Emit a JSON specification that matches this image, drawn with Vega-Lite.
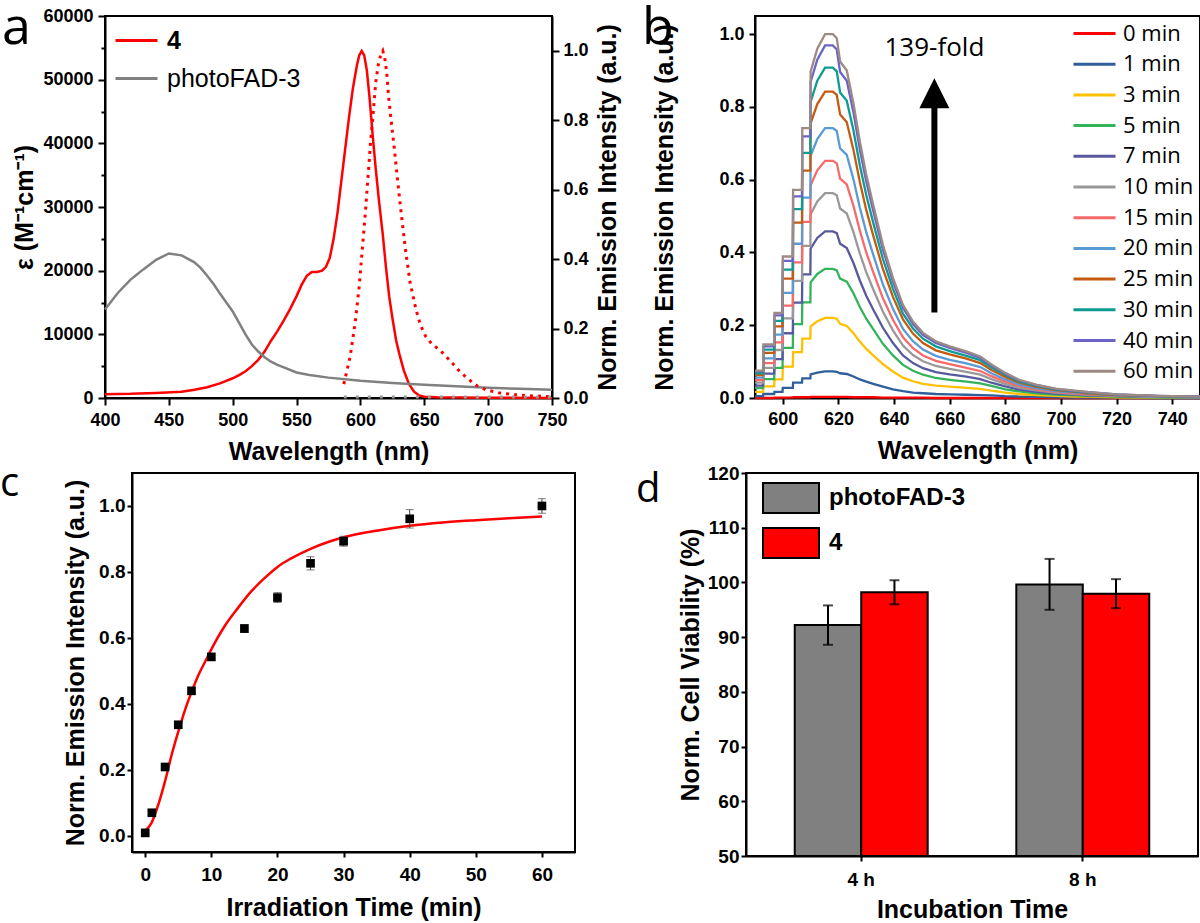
{
  "$schema": "https://vega.github.io/schema/vega-lite/v6.json",
  "background": "white",
  "padding": 0,
  "config": {
    "font": "Liberation Sans",
    "view": {"stroke": "black", "strokeWidth": 2},
    "axis": {"domainColor": "black", "domainWidth": 2, "tickColor": "black", "tickWidth": 2, "labelColor": "black", "labelFont": "Liberation Sans", "labelFontWeight": "bold", "labelFontSize": 18, "titleColor": "black", "titleFont": "Liberation Sans", "titleFontWeight": "bold", "titleFontSize": 25, "grid": false, "labelFlush": false, "labelOverlap": false},
    "legend": {"padding": 0, "labelColor": "black"},
    "title": {"color": "black", "font": "Open Sans", "fontWeight": "normal", "anchor": "start", "frame": "group", "baseline": "alphabetic", "offset": 0}
  },
  "resolve": {"scale": {"x": "independent", "y": "independent", "color": "independent"}, "legend": {"color": "independent"}},
  "spacing": -2,
  "vconcat": [
    {
      "spacing": 18,
      "resolve": {"scale": {"x": "independent", "y": "independent", "color": "independent"}, "legend": {"color": "independent"}},
      "hconcat": [
        {
          "width": 447, "height": 382,
          "layer": [
            {
              "data": {"values": [
                {"s":"4","w":400,"e":600},{"s":"4","w":420,"e":650},{"s":"4","w":440,"e":800},{"s":"4","w":460,"e":1000},{"s":"4","w":470,"e":1300},{"s":"4","w":480,"e":1700},{"s":"4","w":490,"e":2300},{"s":"4","w":500,"e":3100},{"s":"4","w":505,"e":3600},{"s":"4","w":510,"e":4200},{"s":"4","w":515,"e":5000},{"s":"4","w":520,"e":6000},{"s":"4","w":525,"e":7300},{"s":"4","w":530,"e":9000},{"s":"4","w":535,"e":10500},{"s":"4","w":540,"e":12200},{"s":"4","w":545,"e":14000},{"s":"4","w":550,"e":16000},{"s":"4","w":554,"e":17800},{"s":"4","w":558,"e":19200},{"s":"4","w":562,"e":19800},{"s":"4","w":566,"e":19800},{"s":"4","w":570,"e":20000},{"s":"4","w":573,"e":20600},{"s":"4","w":576,"e":22000},{"s":"4","w":579,"e":25000},{"s":"4","w":582,"e":29000},{"s":"4","w":585,"e":34000},{"s":"4","w":588,"e":39000},{"s":"4","w":591,"e":44000},{"s":"4","w":594,"e":48500},{"s":"4","w":597,"e":52000},{"s":"4","w":599,"e":53800},{"s":"4","w":601,"e":54500},{"s":"4","w":603,"e":53800},{"s":"4","w":605,"e":51500},{"s":"4","w":607,"e":47500},{"s":"4","w":609.5,"e":41500},{"s":"4","w":612,"e":36000},{"s":"4","w":614.5,"e":31000},{"s":"4","w":617.5,"e":25700},{"s":"4","w":620,"e":20500},{"s":"4","w":622.5,"e":16000},{"s":"4","w":625,"e":12600},{"s":"4","w":628,"e":9000},{"s":"4","w":630.5,"e":6900},{"s":"4","w":634,"e":4300},{"s":"4","w":638,"e":2200},{"s":"4","w":642,"e":1000},{"s":"4","w":646,"e":400},{"s":"4","w":650,"e":200},{"s":"4","w":660,"e":100},{"s":"4","w":700,"e":50},{"s":"4","w":750,"e":0},
                {"s":"photoFAD-3","w":400,"e":13900},{"s":"photoFAD-3","w":410,"e":16500},{"s":"photoFAD-3","w":420,"e":18600},{"s":"photoFAD-3","w":425,"e":19400},{"s":"photoFAD-3","w":430,"e":20200},{"s":"photoFAD-3","w":440,"e":21700},{"s":"photoFAD-3","w":450,"e":22700},{"s":"photoFAD-3","w":460,"e":22400},{"s":"photoFAD-3","w":470,"e":21300},{"s":"photoFAD-3","w":475,"e":20400},{"s":"photoFAD-3","w":480,"e":19200},{"s":"photoFAD-3","w":485,"e":17900},{"s":"photoFAD-3","w":490,"e":16400},{"s":"photoFAD-3","w":495,"e":15000},{"s":"photoFAD-3","w":500,"e":13600},{"s":"photoFAD-3","w":505,"e":11800},{"s":"photoFAD-3","w":510,"e":10000},{"s":"photoFAD-3","w":515,"e":8400},{"s":"photoFAD-3","w":520,"e":7300},{"s":"photoFAD-3","w":525,"e":6400},{"s":"photoFAD-3","w":530,"e":5700},{"s":"photoFAD-3","w":535,"e":5200},{"s":"photoFAD-3","w":540,"e":4800},{"s":"photoFAD-3","w":550,"e":4000},{"s":"photoFAD-3","w":560,"e":3600},{"s":"photoFAD-3","w":575,"e":3200},{"s":"photoFAD-3","w":600,"e":2700},{"s":"photoFAD-3","w":625,"e":2350},{"s":"photoFAD-3","w":650,"e":2100},{"s":"photoFAD-3","w":675,"e":1850},{"s":"photoFAD-3","w":700,"e":1600},{"s":"photoFAD-3","w":725,"e":1450},{"s":"photoFAD-3","w":750,"e":1300}
              ]},
              "mark": {"type": "line", "strokeWidth": 2.5},
              "encoding": {
                "x": {"field": "w", "type": "quantitative", "scale": {"domain": [400, 750], "nice": false, "zero": false},
                  "axis": {"title": "Wavelength (nm)", "values": [400,425,450,475,500,525,550,575,600,625,650,675,700,725,750], "format": "d", "labelOverlap": false, "labelExpr": "datum.value % 50 === 0 ? datum.label : ''", "tickSize": {"condition": {"test": "datum.value % 50 === 0", "value": 7}, "value": 4}, "labelPadding": 6, "titlePadding": 10}},
                "y": {"field": "e", "type": "quantitative", "scale": {"domain": [0, 60000], "nice": false},
                  "axis": {"title": "ε (M⁻¹cm⁻¹)", "values": [0,5000,10000,15000,20000,25000,30000,35000,40000,45000,50000,55000,60000], "format": "d", "labelOverlap": false, "labelExpr": "datum.value % 10000 === 0 ? datum.label : ''", "tickSize": {"condition": {"test": "datum.value % 10000 === 0", "value": 7}, "value": 4}, "labelPadding": 5, "titlePadding": 5}},
                "color": {"field": "s", "type": "nominal", "scale": {"domain": ["4", "photoFAD-3"], "range": ["#ff0000", "#808080"]},
                  "legend": {"orient": "top-left", "offset": 12, "title": null, "symbolType": "M-1.4,0L2.8,0", "symbolSize": 400, "symbolStrokeWidth": 3, "labelFont": "Liberation Sans", "labelFontSize": 25, "labelOffset": 25, "rowPadding": 12, "padding": 0,
                    "encode": {"labels": {"update": {"fontWeight": {"signal": "datum.label === '4' ? 'bold' : 'normal'"}}}}}}
              }
            },
            {
              "layer": [
                {
                  "data": {"values": [
                    {"w":587,"v":0.04},{"w":592,"v":0.12},{"w":596,"v":0.22},{"w":599,"v":0.32},{"w":601.5,"v":0.43},{"w":604,"v":0.54},{"w":606,"v":0.64},{"w":608,"v":0.74},{"w":610,"v":0.82},{"w":612,"v":0.91},{"w":614,"v":0.96},{"w":616,"v":0.99},{"w":617.5,"v":1.0},{"w":619,"v":0.98},{"w":620.5,"v":0.94},{"w":622,"v":0.87},{"w":624,"v":0.8},{"w":626.5,"v":0.72},{"w":629,"v":0.63},{"w":632,"v":0.53},{"w":635.5,"v":0.42},{"w":639,"v":0.33},{"w":643.5,"v":0.255},{"w":647,"v":0.21},{"w":651,"v":0.178},{"w":656,"v":0.155},{"w":662,"v":0.139},{"w":667,"v":0.12},{"w":672,"v":0.1},{"w":678,"v":0.075},{"w":685,"v":0.053},{"w":691,"v":0.036},{"w":698,"v":0.024},{"w":708,"v":0.015},{"w":719,"v":0.01},{"w":735,"v":0.006},{"w":750,"v":0.004}
                  ]},
                  "mark": {"type": "line", "color": "#ff0000", "strokeWidth": 3, "strokeDash": [3, 5]},
                  "encoding": {
                    "x": {"field": "w", "type": "quantitative", "scale": {"domain": [400, 750], "nice": false, "zero": false}},
                    "y": {"field": "v", "type": "quantitative", "scale": {"domain": [0, 1.1], "nice": false},
                      "axis": {"orient": "right", "title": "Norm. Emission Intensity (a.u.)", "titleAngle": 270, "titleBaseline": "top", "values": [0,0.1,0.2,0.3,0.4,0.5,0.6,0.7,0.8,0.9,1.0], "format": ".1f", "labelOverlap": false, "labelExpr": "round(datum.value*10) % 2 === 0 ? datum.label : ''", "tickSize": {"condition": {"test": "round(datum.value*10) % 2 === 0", "value": 7}, "value": 4}, "labelPadding": 4, "titlePadding": 7}}
                  }
                },
                {
                  "data": {"values": [{"w":587,"v":0.003},{"w":650,"v":0.003},{"w":750,"v":0.003}]},
                  "mark": {"type": "line", "color": "#999999", "strokeWidth": 3, "strokeDash": [3, 9]},
                  "encoding": {
                    "x": {"field": "w", "type": "quantitative"},
                    "y": {"field": "v", "type": "quantitative"}
                  }
                },
                {
                  "data": {"values": [{}]},
                  "mark": {"type": "text", "text": "a", "font": "Open Sans", "fontSize": 52, "align": "left", "baseline": "alphabetic", "color": "black"},
                  "encoding": {"x": {"datum": 319.35, "type": "quantitative"}, "y": {"datum": 1.0194, "type": "quantitative"}}
                }
              ]
            }
          ],
          "resolve": {"scale": {"y": "independent"}}
        },
        {
          "width": 445, "height": 382,
          "layer": [
            {
              "data": {"values": [
                {"w":590,"0 min":0,"1 min":0.005,"3 min":0.017,"5 min":0.027,"7 min":0.034,"10 min":0.042,"15 min":0.049,"20 min":0.056,"25 min":0.063,"30 min":0.068,"40 min":0.073,"60 min":0.075},
                {"w":592.9,"0 min":0,"1 min":0.005,"3 min":0.017,"5 min":0.027,"7 min":0.034,"10 min":0.042,"15 min":0.049,"20 min":0.056,"25 min":0.063,"30 min":0.068,"40 min":0.073,"60 min":0.075},
                {"w":593,"0 min":0,"1 min":0.011,"3 min":0.032,"5 min":0.052,"7 min":0.067,"10 min":0.083,"15 min":0.096,"20 min":0.109,"25 min":0.124,"30 min":0.133,"40 min":0.142,"60 min":0.147},
                {"w":596.9,"0 min":0,"1 min":0.011,"3 min":0.032,"5 min":0.052,"7 min":0.067,"10 min":0.083,"15 min":0.096,"20 min":0.109,"25 min":0.124,"30 min":0.133,"40 min":0.142,"60 min":0.147},
                {"w":597,"0 min":0.001,"1 min":0.017,"3 min":0.051,"5 min":0.083,"7 min":0.107,"10 min":0.132,"15 min":0.153,"20 min":0.174,"25 min":0.197,"30 min":0.212,"40 min":0.227,"60 min":0.234},
                {"w":599.9,"0 min":0.001,"1 min":0.017,"3 min":0.051,"5 min":0.083,"7 min":0.107,"10 min":0.132,"15 min":0.153,"20 min":0.174,"25 min":0.197,"30 min":0.212,"40 min":0.227,"60 min":0.234},
                {"w":600,"0 min":0.001,"1 min":0.028,"3 min":0.086,"5 min":0.138,"7 min":0.178,"10 min":0.219,"15 min":0.254,"20 min":0.289,"25 min":0.328,"30 min":0.353,"40 min":0.377,"60 min":0.389},
                {"w":603.6,"0 min":0.001,"1 min":0.028,"3 min":0.086,"5 min":0.138,"7 min":0.178,"10 min":0.219,"15 min":0.254,"20 min":0.289,"25 min":0.328,"30 min":0.353,"40 min":0.377,"60 min":0.389},
                {"w":603.7,"0 min":0.002,"1 min":0.042,"3 min":0.126,"5 min":0.203,"7 min":0.262,"10 min":0.322,"15 min":0.373,"20 min":0.424,"25 min":0.482,"30 min":0.519,"40 min":0.554,"60 min":0.572},
                {"w":606.9,"0 min":0.002,"1 min":0.042,"3 min":0.126,"5 min":0.203,"7 min":0.262,"10 min":0.322,"15 min":0.373,"20 min":0.424,"25 min":0.482,"30 min":0.519,"40 min":0.554,"60 min":0.572},
                {"w":607,"0 min":0.002,"1 min":0.054,"3 min":0.163,"5 min":0.263,"7 min":0.34,"10 min":0.418,"15 min":0.484,"20 min":0.551,"25 min":0.625,"30 min":0.674,"40 min":0.719,"60 min":0.742},
                {"w":609.9,"0 min":0.002,"1 min":0.054,"3 min":0.163,"5 min":0.263,"7 min":0.34,"10 min":0.418,"15 min":0.484,"20 min":0.551,"25 min":0.625,"30 min":0.674,"40 min":0.719,"60 min":0.742},
                {"w":610,"0 min":0.003,"1 min":0.065,"3 min":0.197,"5 min":0.318,"7 min":0.411,"10 min":0.505,"15 min":0.585,"20 min":0.666,"25 min":0.755,"30 min":0.814,"40 min":0.869,"60 min":0.897},
                {"w":612.4,"0 min":0.003,"1 min":0.07,"3 min":0.211,"5 min":0.341,"7 min":0.44,"10 min":0.54,"15 min":0.626,"20 min":0.712,"25 min":0.808,"30 min":0.872,"40 min":0.93,"60 min":0.96},
                {"w":615.2,"0 min":0.003,"1 min":0.073,"3 min":0.22,"5 min":0.355,"7 min":0.458,"10 min":0.563,"15 min":0.652,"20 min":0.742,"25 min":0.842,"30 min":0.908,"40 min":0.969,"60 min":1.0},
                {"w":618,"0 min":0.003,"1 min":0.073,"3 min":0.22,"5 min":0.355,"7 min":0.458,"10 min":0.563,"15 min":0.652,"20 min":0.742,"25 min":0.842,"30 min":0.908,"40 min":0.969,"60 min":1.0},
                {"w":619.4,"0 min":0.003,"1 min":0.072,"3 min":0.218,"5 min":0.351,"7 min":0.453,"10 min":0.557,"15 min":0.645,"20 min":0.734,"25 min":0.833,"30 min":0.898,"40 min":0.958,"60 min":0.989},
                {"w":620.6,"0 min":0.003,"1 min":0.068,"3 min":0.204,"5 min":0.328,"7 min":0.424,"10 min":0.521,"15 min":0.603,"20 min":0.686,"25 min":0.779,"30 min":0.84,"40 min":0.896,"60 min":0.925},
                {"w":623,"0 min":0.003,"1 min":0.066,"3 min":0.198,"5 min":0.32,"7 min":0.412,"10 min":0.507,"15 min":0.587,"20 min":0.668,"25 min":0.758,"30 min":0.817,"40 min":0.872,"60 min":0.9},
                {"w":625.4,"0 min":0.002,"1 min":0.059,"3 min":0.178,"5 min":0.288,"7 min":0.371,"10 min":0.456,"15 min":0.528,"20 min":0.601,"25 min":0.682,"30 min":0.735,"40 min":0.785,"60 min":0.81},
                {"w":627.7,"0 min":0.002,"1 min":0.051,"3 min":0.155,"5 min":0.25,"7 min":0.323,"10 min":0.397,"15 min":0.46,"20 min":0.523,"25 min":0.594,"30 min":0.64,"40 min":0.683,"60 min":0.705},
                {"w":630,"0 min":0.002,"1 min":0.045,"3 min":0.135,"5 min":0.218,"7 min":0.281,"10 min":0.346,"15 min":0.4,"20 min":0.456,"25 min":0.517,"30 min":0.558,"40 min":0.595,"60 min":0.614},
                {"w":632.5,"0 min":0.002,"1 min":0.039,"3 min":0.117,"5 min":0.189,"7 min":0.243,"10 min":0.299,"15 min":0.346,"20 min":0.394,"25 min":0.447,"30 min":0.482,"40 min":0.515,"60 min":0.531},
                {"w":636,"0 min":0.001,"1 min":0.031,"3 min":0.093,"5 min":0.149,"7 min":0.193,"10 min":0.237,"15 min":0.274,"20 min":0.312,"25 min":0.354,"30 min":0.382,"40 min":0.408,"60 min":0.421},
                {"w":639.6,"0 min":0.001,"1 min":0.024,"3 min":0.073,"5 min":0.117,"7 min":0.151,"10 min":0.186,"15 min":0.215,"20 min":0.245,"25 min":0.278,"30 min":0.3,"40 min":0.32,"60 min":0.33},
                {"w":643.2,"0 min":0.001,"1 min":0.019,"3 min":0.056,"5 min":0.091,"7 min":0.117,"10 min":0.144,"15 min":0.167,"20 min":0.19,"25 min":0.216,"30 min":0.232,"40 min":0.248,"60 min":0.256},
                {"w":646.8,"0 min":0.001,"1 min":0.015,"3 min":0.046,"5 min":0.075,"7 min":0.096,"10 min":0.118,"15 min":0.137,"20 min":0.156,"25 min":0.177,"30 min":0.191,"40 min":0.203,"60 min":0.21},
                {"w":650.4,"0 min":0.001,"1 min":0.013,"3 min":0.039,"5 min":0.064,"7 min":0.082,"10 min":0.101,"15 min":0.117,"20 min":0.133,"25 min":0.151,"30 min":0.163,"40 min":0.173,"60 min":0.179},
                {"w":655,"0 min":0,"1 min":0.011,"3 min":0.034,"5 min":0.055,"7 min":0.071,"10 min":0.088,"15 min":0.102,"20 min":0.116,"25 min":0.131,"30 min":0.142,"40 min":0.151,"60 min":0.156},
                {"w":660,"0 min":0,"1 min":0.01,"3 min":0.031,"5 min":0.05,"7 min":0.065,"10 min":0.08,"15 min":0.093,"20 min":0.105,"25 min":0.12,"30 min":0.129,"40 min":0.138,"60 min":0.142},
                {"w":666,"0 min":0,"1 min":0.009,"3 min":0.028,"5 min":0.045,"7 min":0.059,"10 min":0.072,"15 min":0.083,"20 min":0.095,"25 min":0.108,"30 min":0.116,"40 min":0.124,"60 min":0.128},
                {"w":671,"0 min":0,"1 min":0.008,"3 min":0.025,"5 min":0.04,"7 min":0.052,"10 min":0.064,"15 min":0.074,"20 min":0.085,"25 min":0.096,"30 min":0.104,"40 min":0.11,"60 min":0.114},
                {"w":675,"0 min":0,"1 min":0.007,"3 min":0.02,"5 min":0.033,"7 min":0.042,"10 min":0.052,"15 min":0.06,"20 min":0.068,"25 min":0.077,"30 min":0.084,"40 min":0.089,"60 min":0.092},
                {"w":680,"0 min":0,"1 min":0.005,"3 min":0.015,"5 min":0.024,"7 min":0.032,"10 min":0.039,"15 min":0.045,"20 min":0.051,"25 min":0.058,"30 min":0.063,"40 min":0.067,"60 min":0.069},
                {"w":685,"0 min":0,"1 min":0.004,"3 min":0.011,"5 min":0.018,"7 min":0.023,"10 min":0.028,"15 min":0.033,"20 min":0.037,"25 min":0.042,"30 min":0.045,"40 min":0.048,"60 min":0.05},
                {"w":691,"0 min":0,"1 min":0.003,"3 min":0.008,"5 min":0.013,"7 min":0.017,"10 min":0.021,"15 min":0.024,"20 min":0.027,"25 min":0.031,"30 min":0.034,"40 min":0.036,"60 min":0.037},
                {"w":698,"0 min":0,"1 min":0.002,"3 min":0.006,"5 min":0.009,"7 min":0.012,"10 min":0.015,"15 min":0.017,"20 min":0.019,"25 min":0.022,"30 min":0.024,"40 min":0.025,"60 min":0.026},
                {"w":705,"0 min":0,"1 min":0.001,"3 min":0.004,"5 min":0.007,"7 min":0.009,"10 min":0.011,"15 min":0.013,"20 min":0.015,"25 min":0.017,"30 min":0.018,"40 min":0.019,"60 min":0.02},
                {"w":710,"0 min":0,"1 min":0.001,"3 min":0.004,"5 min":0.006,"7 min":0.007,"10 min":0.009,"15 min":0.01,"20 min":0.012,"25 min":0.013,"30 min":0.015,"40 min":0.016,"60 min":0.016},
                {"w":720,"0 min":0,"1 min":0.001,"3 min":0.002,"5 min":0.004,"7 min":0.005,"10 min":0.006,"15 min":0.007,"20 min":0.007,"25 min":0.008,"30 min":0.009,"40 min":0.01,"60 min":0.01},
                {"w":735,"0 min":0,"1 min":0,"3 min":0.001,"5 min":0.002,"7 min":0.003,"10 min":0.003,"15 min":0.004,"20 min":0.004,"25 min":0.005,"30 min":0.005,"40 min":0.006,"60 min":0.006},
                {"w":750,"0 min":0,"1 min":0,"3 min":0.001,"5 min":0.001,"7 min":0.002,"10 min":0.002,"15 min":0.003,"20 min":0.003,"25 min":0.003,"30 min":0.004,"40 min":0.004,"60 min":0.004}
              ]},
              "transform": [{"fold": ["0 min","1 min","3 min","5 min","7 min","10 min","15 min","20 min","25 min","30 min","40 min","60 min"], "as": ["time", "v"]}],
              "mark": {"type": "line", "strokeWidth": 2.3},
              "encoding": {
                "x": {"field": "w", "type": "quantitative", "scale": {"domain": [590, 750], "nice": false, "zero": false},
                  "axis": {"title": "Wavelength (nm)", "values": [600,610,620,630,640,650,660,670,680,690,700,710,720,730,740,750], "format": "d", "labelOverlap": false, "labelExpr": "datum.value % 20 === 0 ? datum.label : ''", "tickSize": {"condition": {"test": "datum.value % 20 === 0", "value": 6}, "value": 3}, "labelPadding": 6, "titlePadding": 10}},
                "y": {"field": "v", "type": "quantitative", "scale": {"domain": [0, 1.05], "nice": false},
                  "axis": {"title": "Norm. Emission Intensity (a.u.)", "values": [0,0.1,0.2,0.3,0.4,0.5,0.6,0.7,0.8,0.9,1.0], "format": ".1f", "labelOverlap": false, "labelExpr": "round(datum.value*10) % 2 === 0 ? datum.label : ''", "tickSize": {"condition": {"test": "round(datum.value*10) % 2 === 0", "value": 6}, "value": 3}, "labelPadding": 5, "titlePadding": 41}},
                "color": {"field": "time", "type": "nominal",
                  "scale": {"domain": ["0 min","1 min","3 min","5 min","7 min","10 min","15 min","20 min","25 min","30 min","40 min","60 min"], "range": ["#ff0000","#2f5f9a","#ffc000","#33b35a","#58589f","#999999","#f76a6a","#5b9bd5","#c55a11","#0e9c91","#6b63c6","#9e8a84"]},
                  "legend": {"orient": "top-right", "offset": 6, "title": null, "symbolType": "M-2.1,0L2.1,0", "symbolSize": 400, "symbolStrokeWidth": 3, "labelFont": "Open Sans", "labelFontSize": 22, "labelOffset": 17, "rowPadding": 7.7, "padding": 0}}
              }
            },
            {
              "data": {"values": [{}]},
              "mark": {"type": "rule", "color": "black", "strokeWidth": 6},
              "encoding": {"x": {"datum": 654.5, "type": "quantitative"}, "y": {"datum": 0.235, "type": "quantitative"}, "y2": {"datum": 0.8}}
            },
            {
              "data": {"values": [{}]},
              "mark": {"type": "point", "shape": "M-1,1L0,-1L1,1Z", "filled": true, "color": "black", "opacity": 1, "size": 900},
              "encoding": {"x": {"datum": 654.5, "type": "quantitative"}, "y": {"datum": 0.838, "type": "quantitative"}}
            },
            {
              "data": {"values": [{}]},
              "mark": {"type": "text", "text": "139-fold", "font": "Open Sans", "fontSize": 26, "align": "center", "baseline": "alphabetic", "color": "black"},
              "encoding": {"x": {"datum": 654.5, "type": "quantitative"}, "y": {"datum": 0.939, "type": "quantitative"}}
            },
            {
              "data": {"values": [{}]},
              "mark": {"type": "text", "text": "b", "font": "Open Sans", "fontSize": 52, "align": "left", "baseline": "alphabetic", "color": "black"},
              "encoding": {"x": {"datum": 549.37, "type": "quantitative"}, "y": {"datum": 0.973, "type": "quantitative"}}
            }
          ]
        }
      ]
    },
    {
      "spacing": 59,
      "resolve": {"scale": {"x": "independent", "y": "independent", "color": "independent"}, "legend": {"color": "independent"}},
      "hconcat": [
        {
          "width": 470, "height": 379,
          "view": {"stroke": null},
          "layer": [
            {
              "data": {"values": [
                {"t":0,"y":0.015},{"t":1,"y":0.04},{"t":2,"y":0.095},{"t":3,"y":0.165},{"t":4,"y":0.245},{"t":5,"y":0.315},{"t":6,"y":0.38},{"t":7,"y":0.435},{"t":8,"y":0.485},{"t":9,"y":0.525},{"t":10,"y":0.565},{"t":12,"y":0.635},{"t":14,"y":0.69},{"t":16,"y":0.74},{"t":18,"y":0.78},{"t":20,"y":0.815},{"t":22,"y":0.84},{"t":25,"y":0.87},{"t":28,"y":0.893},{"t":30,"y":0.905},{"t":35,"y":0.925},{"t":40,"y":0.94},{"t":45,"y":0.95},{"t":50,"y":0.957},{"t":55,"y":0.963},{"t":60,"y":0.968}
              ]},
              "mark": {"type": "line", "color": "#ff0000", "strokeWidth": 2.5, "interpolate": "monotone"},
              "encoding": {
                "x": {"field": "t", "type": "quantitative", "scale": {"domain": [-2, 65], "range": [27, 470], "nice": false, "zero": false},
                  "axis": {"title": "Irradiation Time (min)", "values": [0,5,10,15,20,25,30,35,40,45,50,55,60], "format": "d", "labelOverlap": false, "labelExpr": "datum.value % 10 === 0 ? datum.label : ''", "tickSize": {"condition": {"test": "datum.value % 10 === 0", "value": 5}, "value": 3}, "labelFontSize": 19, "labelPadding": 8, "titlePadding": 11}},
                "y": {"field": "y", "type": "quantitative", "scale": {"domain": [-0.05, 1.1], "nice": false, "zero": false},
                  "axis": {"title": "Norm. Emission Intensity (a.u.)", "offset": -27, "values": [0,0.1,0.2,0.3,0.4,0.5,0.6,0.7,0.8,0.9,1.0], "format": ".1f", "labelOverlap": false, "labelExpr": "round(datum.value*10) % 2 === 0 ? datum.label : ''", "tickSize": {"condition": {"test": "round(datum.value*10) % 2 === 0", "value": 5}, "value": 3}, "labelFontSize": 19, "labelPadding": 2, "titlePadding": 10}}
              }
            },
            {
              "data": {"values": [
                {"t":0,"y":0.008,"lo":0.0,"hi":0.016},{"t":1,"y":0.069,"lo":0.061,"hi":0.077},{"t":3,"y":0.208,"lo":0.2,"hi":0.216},{"t":5,"y":0.336,"lo":0.328,"hi":0.344},{"t":7,"y":0.439,"lo":0.429,"hi":0.449},{"t":10,"y":0.542,"lo":0.532,"hi":0.552},{"t":15,"y":0.628,"lo":0.616,"hi":0.64},{"t":20,"y":0.722,"lo":0.707,"hi":0.737},{"t":25,"y":0.826,"lo":0.806,"hi":0.846},{"t":30,"y":0.893,"lo":0.878,"hi":0.908},{"t":40,"y":0.961,"lo":0.933,"hi":0.989},{"t":60,"y":1.0,"lo":0.978,"hi":1.022}
              ]},
              "layer": [
                {
                  "mark": {"type": "rule", "color": "#444444", "strokeWidth": 1},
                  "encoding": {
                    "x": {"field": "t", "type": "quantitative", "title": "Irradiation Time (min)"},
                    "y": {"field": "lo", "type": "quantitative", "title": "Norm. Emission Intensity (a.u.)"},
                    "y2": {"field": "hi"}
                  }
                },
                {
                  "mark": {"type": "tick", "color": "#444444", "orient": "horizontal", "size": 8, "thickness": 1},
                  "encoding": {
                    "x": {"field": "t", "type": "quantitative", "title": "Irradiation Time (min)"},
                    "y": {"field": "lo", "type": "quantitative", "title": "Norm. Emission Intensity (a.u.)"}
                  }
                },
                {
                  "mark": {"type": "tick", "color": "#444444", "orient": "horizontal", "size": 8, "thickness": 1},
                  "encoding": {
                    "x": {"field": "t", "type": "quantitative", "title": "Irradiation Time (min)"},
                    "y": {"field": "hi", "type": "quantitative", "title": "Norm. Emission Intensity (a.u.)"}
                  }
                },
                {
                  "mark": {"type": "square", "color": "black", "filled": true, "opacity": 1, "size": 75},
                  "encoding": {
                    "x": {"field": "t", "type": "quantitative", "title": "Irradiation Time (min)"},
                    "y": {"field": "y", "type": "quantitative", "title": "Norm. Emission Intensity (a.u.)"}
                  }
                }
              ]
            },
            {
              "data": {"values": [{}]},
              "mark": {"type": "rect", "filled": false, "stroke": "black", "strokeWidth": 2},
              "encoding": {"x": {"datum": -2, "type": "quantitative"}, "x2": {"datum": 65}, "y": {"datum": -0.05, "type": "quantitative"}, "y2": {"datum": 1.1}}
            },
            {
              "data": {"values": [{}]},
              "mark": {"type": "text", "text": "c", "font": "Open Sans", "fontSize": 40, "align": "left", "baseline": "alphabetic", "color": "black"},
              "encoding": {"x": {"datum": -21.96, "type": "quantitative"}, "y": {"datum": 1.0302, "type": "quantitative"}}
            }
          ]
        },
        {
          "width": 452, "height": 383,
          "title": {"text": "d", "fontSize": 40, "dx": -110, "dy": 50},
          "data": {"values": [
            {"time":"4 h","cmp":"photoFAD-3","v":92.2,"lo":88.6,"hi":95.8},
            {"time":"4 h","cmp":"4","v":98.2,"lo":96.0,"hi":100.4},
            {"time":"8 h","cmp":"photoFAD-3","v":99.6,"lo":95.0,"hi":104.3},
            {"time":"8 h","cmp":"4","v":97.95,"lo":95.3,"hi":100.6}
          ]},
          "encoding": {
            "x": {"field": "time", "type": "nominal", "scale": {"paddingInner": 0.4, "paddingOuter": 0.22},
              "axis": {"title": "Incubation Time", "labelAngle": 0, "tickSize": 5, "labelFontSize": 19, "labelPadding": 9, "titlePadding": 8}},
            "xOffset": {"field": "cmp", "type": "nominal", "scale": {"domain": ["photoFAD-3", "4"], "paddingInner": 0, "paddingOuter": 0}}
          },
          "layer": [
            {
              "mark": {"type": "bar", "stroke": "black", "strokeWidth": 2},
              "encoding": {
                "y": {"field": "v", "type": "quantitative", "stack": null, "scale": {"domain": [50, 120], "nice": false, "zero": false},
                  "axis": {"title": "Norm. Cell Viability (%)", "values": [50,55,60,65,70,75,80,85,90,95,100,105,110,115,120], "format": "d", "labelOverlap": false, "labelExpr": "datum.value % 10 === 0 ? datum.label : ''", "tickSize": {"condition": {"test": "datum.value % 10 === 0", "value": 5}, "value": 3}, "labelFontSize": 19, "labelPadding": 2, "titlePadding": 4}},
                "y2": {"datum": 50},
                "color": {"field": "cmp", "type": "nominal", "scale": {"domain": ["photoFAD-3", "4"], "range": ["#808080", "#ff0000"]},
                  "legend": {"orient": "top-left", "offset": 9, "title": null, "symbolType": "M-0.533,-1L3.2,-1L3.2,1L-0.533,1Z", "symbolSize": 900, "symbolStrokeColor": "black", "symbolStrokeWidth": 2, "symbolOpacity": 1, "labelFont": "Liberation Sans", "labelFontWeight": "bold", "labelFontSize": 24, "labelOffset": 42, "rowPadding": 7, "padding": 0}}
              }
            },
            {
              "mark": {"type": "rule", "color": "black", "strokeWidth": 2},
              "encoding": {
                "y": {"field": "lo", "type": "quantitative", "title": "Norm. Cell Viability (%)"},
                "y2": {"field": "hi"}
              }
            },
            {
              "mark": {"type": "tick", "color": "black", "orient": "horizontal", "size": 10, "thickness": 2},
              "encoding": {"y": {"field": "lo", "type": "quantitative", "title": "Norm. Cell Viability (%)"}}
            },
            {
              "mark": {"type": "tick", "color": "black", "orient": "horizontal", "size": 10, "thickness": 2},
              "encoding": {"y": {"field": "hi", "type": "quantitative", "title": "Norm. Cell Viability (%)"}}
            }
          ]
        }
      ]
    }
  ]
}
